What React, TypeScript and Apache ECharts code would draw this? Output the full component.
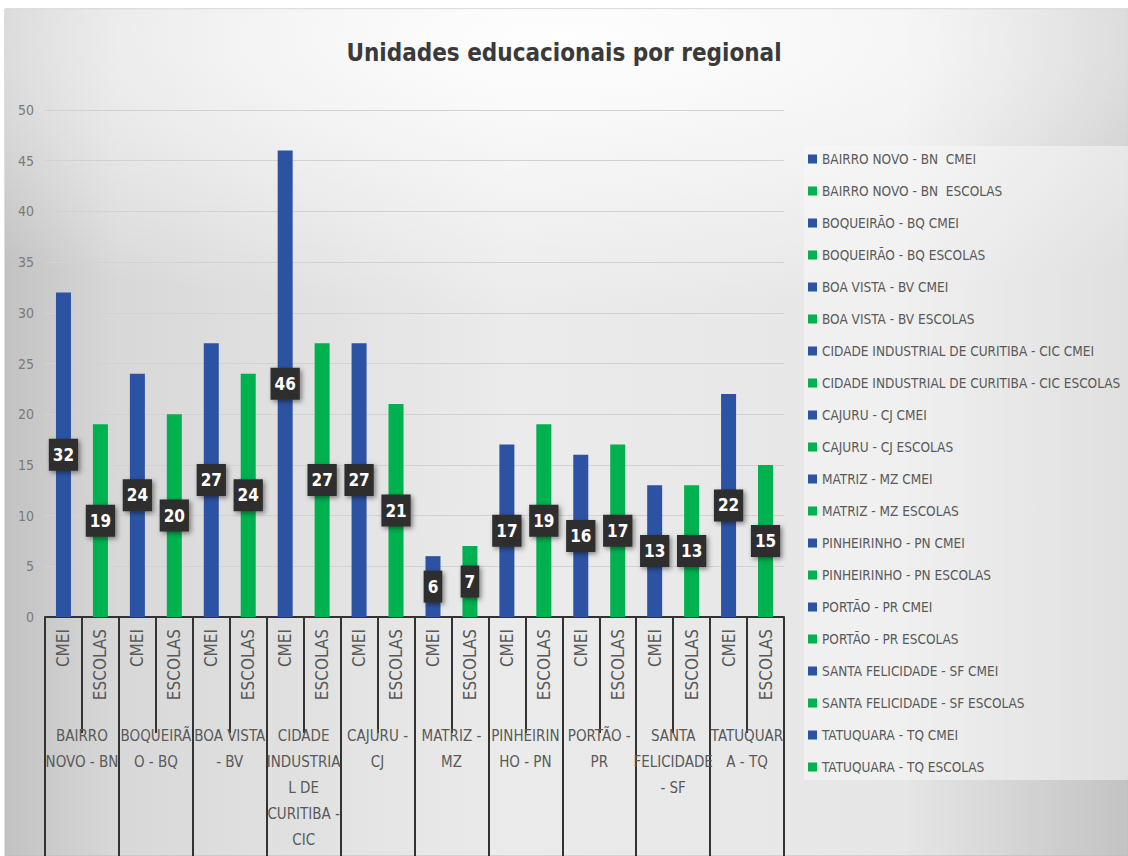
import React, { useEffect, useRef } from "react";
import * as echarts from "echarts";

const regions = [
  "BAIRRO NOVO - BN ",
  "BOQUEIRÃO - BQ",
  "BOA VISTA - BV",
  "CIDADE INDUSTRIAL DE CURITIBA - CIC",
  "CAJURU - CJ",
  "MATRIZ - MZ",
  "PINHEIRINHO - PN",
  "PORTÃO - PR",
  "SANTA FELICIDADE - SF",
  "TATUQUARA - TQ",
];
const regionAxisLabels = [
  "BAIRRO\nNOVO - BN",
  "BOQUEIRÃ\nO - BQ",
  "BOA VISTA\n- BV",
  "CIDADE\nINDUSTRIA\nL DE\nCURITIBA -\nCIC",
  "CAJURU -\nCJ",
  "MATRIZ -\nMZ",
  "PINHEIRIN\nHO - PN",
  "PORTÃO -\nPR",
  "SANTA\nFELICIDADE\n- SF",
  "TATUQUAR\nA - TQ",
];
const types = ["CMEI", "ESCOLAS"];
const cmeiValues = [32, 24, 27, 46, 27, 6, 17, 16, 13, 22];
const escolasValues = [19, 20, 24, 27, 21, 7, 19, 17, 13, 15];
const typeColors = ["#2c53a3", "#00b14f"];

const FONT = "'DejaVu Sans Condensed', 'Open Sans', 'Noto Sans', sans-serif";

export default function App() {
  const ref = useRef<HTMLDivElement>(null);
  useEffect(() => {
    if (!ref.current) return;
    const chart = echarts.init(ref.current, null, { renderer: "svg" });
    const catKeys: string[] = [];
    regions.forEach((_, r) => types.forEach((t) => catKeys.push(r + "|" + t)));
    const series: any[] = [];
    regions.forEach((reg, r) => {
      types.forEach((t, ti) => {
        const idx = r * 2 + ti;
        const vals = ti === 0 ? cmeiValues : escolasValues;
        const data = catKeys.map((_, k) => (k === idx ? vals[r] : "-"));
        series.push({
          type: "bar",
          name: reg + " " + t,
          stack: "all",
          barWidth: 15,
          xAxisIndex: 0,
          data,
          itemStyle: { color: typeColors[ti] },
          label: {
            show: true,
            position: "inside",
            formatter: "{c}",
            color: "#ffffff",
            fontWeight: "bold",
            fontSize: 17,
            fontFamily: FONT,
            backgroundColor: "#2e2e2e",
            padding: [8, 4, 7, 4],
            shadowBlur: 5,
            shadowColor: "rgba(0,0,0,0.45)",
            shadowOffsetX: 2,
            shadowOffsetY: 2,
          },
        });
      });
    });

    chart.setOption({
      animation: false,
      graphic: [
        {
          type: "rect",
          z: -10,
          silent: true,
          shape: { x: 5, y: 9, width: 1123, height: 847 },
          style: {
            fill: new echarts.graphic.LinearGradient(0, 0, 1, 0, [
              { offset: 0, color: "#c2c2c2" },
              { offset: 0.1, color: "#d8d8d8" },
              { offset: 0.45, color: "#ebebeb" },
              { offset: 0.8, color: "#e6e6e6" },
              { offset: 1, color: "#c3c3c3" },
            ]),
            stroke: "#bdbdbd",
            lineWidth: 1,
          },
        },
        {
          type: "rect",
          z: -9,
          silent: true,
          shape: { x: 5, y: 9, width: 1123, height: 300 },
          style: {
            fill: new echarts.graphic.RadialGradient(0.5, 0.1, 0.9, [
              { offset: 0, color: "rgba(255,255,255,0.95)" },
              { offset: 1, color: "rgba(255,255,255,0)" },
            ]),
          },
        },
      ],
      title: {
        text: "Unidades educacionais por regional",
        left: "center",
        top: 36,
        textStyle: {
          fontSize: 24,
          fontWeight: "bold",
          color: "#3a3a3a",
          fontFamily: FONT,
        },
      },
      legend: {
        orient: "vertical",
        left: 804,
        top: 146,
        itemWidth: 9,
        itemHeight: 9,
        itemGap: 18,
        icon: "rect",
        backgroundColor: "rgba(248,248,248,0.55)",
        padding: [6, 8, 6, 4],
        textStyle: {
          fontSize: 13.5,
          color: "#595959",
          fontFamily: FONT,
          lineHeight: 14,
        },
        data: series.map((s) => s.name),
      },
      grid: { left: 45, right: 344, top: 110, bottom: 239, containLabel: false },
      xAxis: [
        {
          type: "category",
          data: catKeys,
          position: "bottom",
          axisLine: { show: true, lineStyle: { color: "#333333", width: 2 } },
          axisTick: {
            show: true,
            interval: 0,
            length: 116,
            lineStyle: { color: "#333333", width: 2 },
          },
          axisLabel: {
            interval: 0,
            rotate: 90,
            margin: 12,
            fontSize: 17,
            color: "#595959",
            fontFamily: FONT,
            formatter: (v: string) => v.split("|")[1],
          },
        },
        {
          type: "category",
          data: regionAxisLabels,
          position: "bottom",
          axisLine: { show: false },
          axisTick: {
            show: true,
            interval: 0,
            length: 245,
            lineStyle: { color: "#333333", width: 2 },
          },
          axisLabel: {
            interval: 0,
            margin: 106,
            fontSize: 15,
            lineHeight: 26,
            color: "#595959",
            fontFamily: FONT,
          },
        },
      ],
      yAxis: {
        type: "value",
        min: 0,
        max: 50,
        interval: 5,
        axisLine: { show: false },
        axisTick: { show: false },
        axisLabel: { color: "#7a7a7a", fontSize: 14, margin: 11, fontFamily: FONT },
        splitLine: { lineStyle: { color: "#d2d2d2", width: 1 } },
      },
      series,
    });
    return () => chart.dispose();
  }, []);
  return (
    <div
      ref={ref}
      style={{ position: "absolute", left: 0, top: 0, width: 1128, height: 856, background: "#ffffff" }}
    />
  );
}
